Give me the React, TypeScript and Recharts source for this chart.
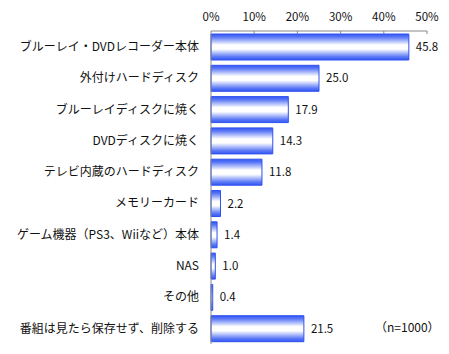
import React from 'react';
import { BarChart, Bar, XAxis, YAxis, LabelList } from 'recharts';

const categories = [
  'ブルーレイ・DVDレコーダー本体',
  '外付けハードディスク',
  'ブルーレイディスクに焼く',
  'DVDディスクに焼く',
  'テレビ内蔵のハードディスク',
  'メモリーカード',
  'ゲーム機器（PS3、Wiiなど）本体',
  'NAS',
  'その他',
  '番組は見たら保存せず、削除する',
];
const values = [45.8, 25.0, 17.9, 14.3, 11.8, 2.2, 1.4, 1.0, 0.4, 21.5];
const xTicks = [0, 10, 20, 30, 40, 50];

const data = categories.map((name, i) => ({ name, value: values[i] }));

const FONT = '"Noto Sans CJK JP", "Noto Sans", sans-serif';

const TopTick = (props: any) => {
  const { x, payload } = props;
  return (
    <g>
      <text x={x} y={21} textAnchor="middle" fontSize={11.5} fill="#111" fontFamily={FONT}>
        {payload.value}%
      </text>
      {payload.value > 0 && <line x1={x} x2={x} y1={31} y2={34} stroke="#888" />}
    </g>
  );
};

const App: React.FC = () => {
  return (
    <div style={{ position: 'absolute', left: 0, top: 0, width: 449, height: 354, background: '#fff' }}>
      <BarChart
        width={449}
        height={354}
        data={data}
        layout="vertical"
        margin={{ top: 0, right: 22, bottom: 10, left: 0 }}
        barCategoryGap={0}
      >
        <defs>
          <linearGradient id="barGrad" x1="0" y1="0" x2="0" y2="1">
            <stop offset="0" stopColor="#3556f4" />
            <stop offset="0.12" stopColor="#5a78f6" />
            <stop offset="0.42" stopColor="#ffffff" />
            <stop offset="0.58" stopColor="#ffffff" />
            <stop offset="0.88" stopColor="#5a78f6" />
            <stop offset="1" stopColor="#3556f4" />
          </linearGradient>
        </defs>
        <XAxis
          type="number"
          orientation="top"
          domain={[0, 50]}
          ticks={xTicks}
          height={31}
          stroke="#888"
          tickLine={false}
          tick={<TopTick />}
          interval={0}
        />
        <YAxis
          type="category"
          dataKey="name"
          width={211}
          stroke="#888"
          tickLine={false}
          tickSize={0}
          tickMargin={12}
          interval={0}
          tick={{ fontSize: 12, fill: '#111', fontFamily: FONT }}
        />
        <Bar dataKey="value" barSize={26} fill="url(#barGrad)" stroke="#2f52f0" strokeWidth={1} isAnimationActive={false}>
          <LabelList
            dataKey="value"
            position="right"
            offset={7}
            formatter={(v: any) => Number(v).toFixed(1)}
            style={{ fontSize: 11.5, fill: '#111', fontFamily: FONT }}
          />
        </Bar>
      </BarChart>
      <div
        style={{
          position: 'absolute',
          left: 375,
          top: 318,
          fontSize: 12,
          fontFamily: FONT,
          color: '#111',
        }}
      >
        （n=1000）
      </div>
    </div>
  );
};

export default App;
